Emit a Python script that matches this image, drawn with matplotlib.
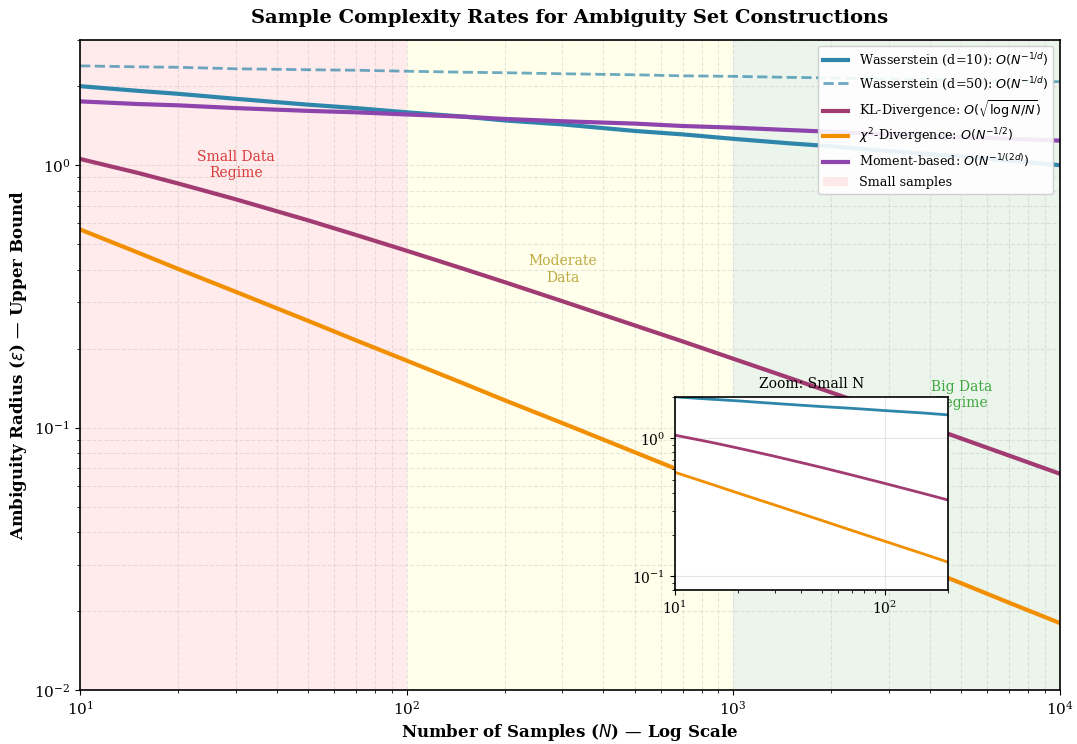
import numpy as np
import matplotlib
matplotlib.use("Agg")
import matplotlib.pyplot as plt

plt.rcParams['font.family'] = ['DejaVu Serif']
plt.rcParams['mathtext.fontset'] = 'dejavusans'

# sample sizes and bound values
n_samples = np.array([10, 15, 20, 30, 50, 70, 100, 150, 200, 300, 500, 700,
                      1000, 1500, 2000, 3000, 5000, 7000, 10000])
wass_d10 = np.array([2.00, 1.92, 1.87, 1.79, 1.70, 1.65, 1.59, 1.53, 1.48, 1.43,
                     1.35, 1.31, 1.26, 1.21, 1.18, 1.13, 1.08, 1.04, 1.00])
wass_d50 = np.array([2.39, 2.37, 2.36, 2.33, 2.31, 2.30, 2.28, 2.26, 2.25, 2.23,
                     2.21, 2.19, 2.18, 2.16, 2.15, 2.13, 2.11, 2.09, 2.08])
kl_div = np.array([1.056, 0.935, 0.851, 0.741, 0.616, 0.542, 0.472, 0.402, 0.358,
                   0.303, 0.245, 0.213, 0.183, 0.154, 0.136, 0.114, 0.0908, 0.0782, 0.0667])
chi2_div = np.array([0.569, 0.465, 0.402, 0.329, 0.255, 0.215, 0.180, 0.147, 0.127,
                     0.104, 0.0805, 0.068, 0.0569, 0.0465, 0.0402, 0.0329, 0.0255, 0.0215, 0.018])
moment = np.array([1.75, 1.71, 1.69, 1.65, 1.61, 1.59, 1.56, 1.53, 1.50, 1.47,
                   1.44, 1.41, 1.39, 1.36, 1.34, 1.31, 1.28, 1.26, 1.24])

regimes = [(10, 100), (100, 1000), (1000, 10000)]

fig = plt.figure(figsize=(10.77, 7.44), dpi=100)
ax = fig.add_axes([0.0743, 0.0726, 0.9097, 0.8737])

ax.plot(n_samples, wass_d10, color='#2E86AB', lw=3, label=r'Wasserstein (d=10): $O(N^{-1/d})$')
ax.plot(n_samples, wass_d50, color='#2E86AB', lw=2, ls='--', alpha=0.7,
        label=r'Wasserstein (d=50): $O(N^{-1/d})$')
ax.plot(n_samples, kl_div, color='#A23B72', lw=3, label=r'KL-Divergence: $O(\sqrt{\log N/N})$')
ax.plot(n_samples, chi2_div, color='#F18F01', lw=3, label=r'$\chi^2$-Divergence: $O(N^{-1/2})$')
ax.plot(n_samples, moment, color='#8E44AD', lw=3, label=r'Moment-based: $O(N^{-1/(2d)})$')

ax.axvspan(*regimes[0], color='red', alpha=0.08, label='Small samples', lw=0, zorder=0)
ax.axvspan(*regimes[1], color='yellow', alpha=0.08, lw=0, zorder=0)
ax.axvspan(*regimes[2], color='green', alpha=0.08, lw=0, zorder=0)

ax.set_xscale('log')
ax.set_yscale('log')
ax.set_xlim(10, 10000)
ax.set_ylim(0.01, 3)
ax.grid(True, which='both', ls='--', alpha=0.3)
for s in ax.spines.values():
    s.set_linewidth(1.2)
ax.tick_params(labelsize=11)

ax.text(30, 1.0, 'Small Data\nRegime', ha='center', va='center', fontsize=10, color='#d62728', alpha=0.9)
ax.text(300, 0.4, 'Moderate\nData', ha='center', va='center', fontsize=10, color='#b8a030', alpha=0.9)
ax.text(5000, 0.133, 'Big Data\nRegime', ha='center', va='center', fontsize=10, color='#2ca02c', alpha=0.9)

ax.set_xlabel(r'Number of Samples ($N$) — Log Scale', fontsize=12, fontweight='bold', labelpad=3)
ax.set_ylabel(r'Ambiguity Radius ($\varepsilon$) — Upper Bound', fontsize=12, fontweight='bold')
ax.set_title('Sample Complexity Rates for Ambiguity Set Constructions', fontsize=14,
             fontweight='bold', pad=12)

ax.legend(loc='upper right', fontsize=9.2, framealpha=0.9)

# inset zoom on small N
ins = ax.inset_axes([0.607, 0.154, 0.279, 0.297])
small = n_samples <= 200
ins.plot(n_samples[small], wass_d10[small], color='#2E86AB', lw=2)
ins.plot(n_samples[small], kl_div[small], color='#A23B72', lw=2)
ins.plot(n_samples[small], chi2_div[small], color='#F18F01', lw=2)
ins.set_xscale('log')
ins.set_yscale('log')
ins.set_xlim(10, 200)
ins.set_ylim(0.08, 2.0)
ins.set_facecolor('white')
ins.grid(True, alpha=0.3)
ins.set_title('Zoom: Small N', fontsize=10)
ins.tick_params(labelsize=10)
for s in ins.spines.values():
    s.set_linewidth(1.2)

fig.savefig('out.png', dpi=100)
